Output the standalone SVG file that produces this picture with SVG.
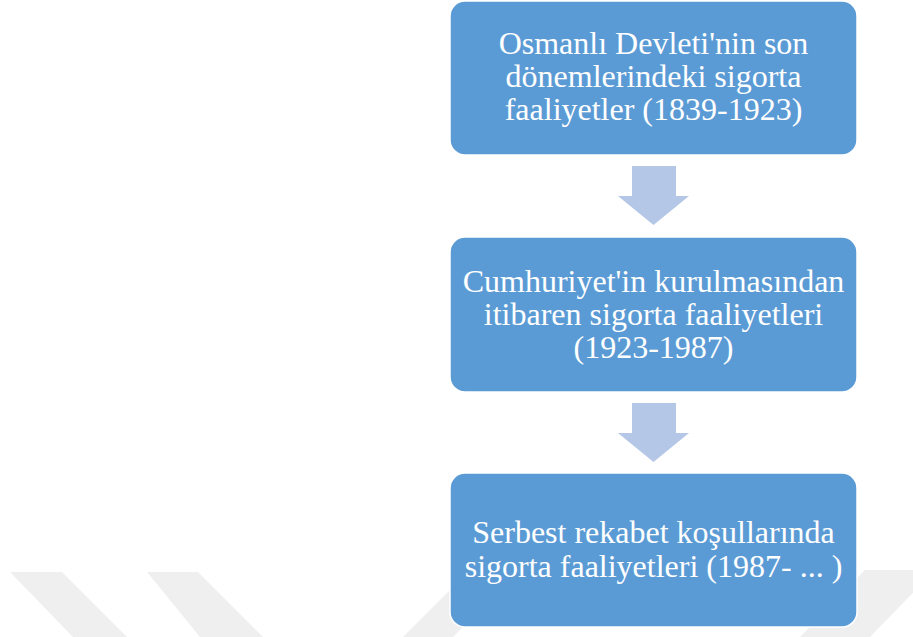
<svg xmlns="http://www.w3.org/2000/svg" width="913" height="637" viewBox="0 0 913 637">
<style>
.wm{fill:#EFEFEF}
.box{fill:#5B9BD5;stroke:#FFFFFF;stroke-width:1.5}
.arr{fill:#B4C7E7}
.t{font-family:"Liberation Serif","Times New Roman",serif;font-size:32px;fill:#FFFFFF;text-anchor:middle}
</style>
<rect width="913" height="637" fill="#FFFFFF"/>
<g id="watermark">
<polygon class="wm" points="10,572 62,572 127,637 73,637"/>
<polygon class="wm" points="147,572 198,572 263,637 200,637"/>
<polygon class="wm" points="403,637 470,570 520,570 453,637"/>
<polygon class="wm" points="865,570 935,570 870,637 800,637"/>
</g>
<g id="connectors">
<polygon class="arr" points="632,166 676,166 676,196 689,196 653.5,225 618,196 632,196"/>
<polygon class="arr" points="632,403 676,403 676,433 689,433 653.5,462 618,433 632,433"/>
</g>
<g id="node1">
<rect class="box" x="450" y="1" width="407" height="154" rx="15"/>
<text class="t" x="653.5" y="54">Osmanlı Devleti'nin son</text>
<text class="t" x="653.5" y="87">dönemlerindeki sigorta</text>
<text class="t" x="653.5" y="120">faaliyetler (1839-1923)</text>
</g>
<g id="node2">
<rect class="box" x="450" y="237" width="407" height="155" rx="15"/>
<text class="t" x="653.5" y="292">Cumhuriyet'in kurulmasından</text>
<text class="t" x="653.5" y="325">itibaren sigorta faaliyetleri</text>
<text class="t" x="653.5" y="358">(1923-1987)</text>
</g>
<g id="node3">
<rect class="box" x="450" y="473" width="407" height="154" rx="15"/>
<text class="t" x="653.5" y="543">Serbest rekabet koşullarında</text>
<text class="t" x="653.5" y="577">sigorta faaliyetleri (1987- ... )</text>
</g>
</svg>
